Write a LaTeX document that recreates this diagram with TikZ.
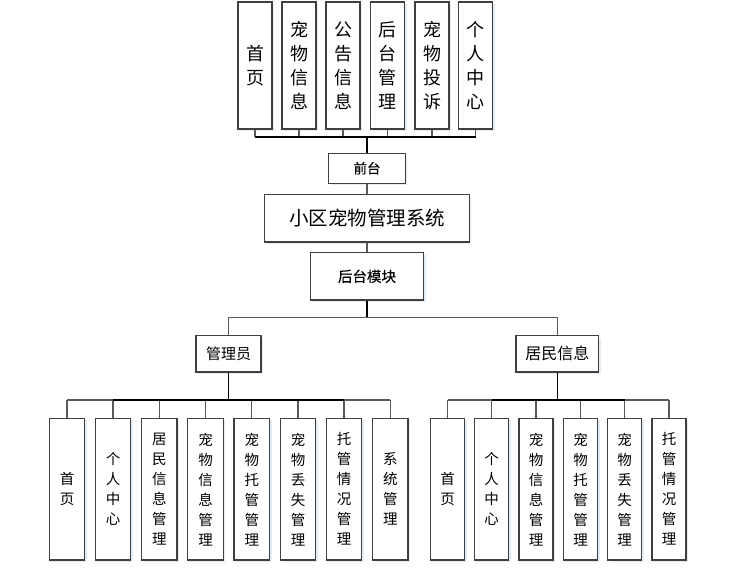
\documentclass[tikz,border=0pt]{standalone}
\usepackage{fontspec}
\setmainfont{Noto Sans CJK SC}
\newfontfamily\semibf[FakeBold=0.5]{Noto Sans CJK SC}
\definecolor{boxc}{HTML}{404040}
\definecolor{linec}{HTML}{5A5A5A}
\definecolor{shadowc}{HTML}{E3EBF5}
\begin{document}
\begin{tikzpicture}[x=1pt,y=-1pt,
  box/.style={draw=boxc, line width=1.2pt, fill=white, inner sep=0pt, align=center,
    preaction={fill=shadowc, transform canvas={xshift=2pt,yshift=-2pt}}},
  topbox/.style={box, minimum width=34pt, minimum height=127pt, font=\fontsize{18}{24}\selectfont},
  botbox/.style={box, minimum width=35.5pt, minimum height=141.7pt, font=\fontsize{14.5}{20}\selectfont},
  rbox/.style={box, minimum width=34pt, minimum height=141.7pt, font=\fontsize{14.5}{20}\selectfont},
  wire/.style={draw=linec, line width=1.2pt},
  stem/.style={draw=black, line width=1.6pt}]
\useasboundingbox (0,0) rectangle (730,576);
% top row
\node[topbox] (t1) at (255,65.5) {首\\页};
\node[topbox] (t2) at (299,65.5) {宠\\物\\信\\息};
\node[topbox] (t3) at (343,65.5) {公\\告\\信\\息};
\node[topbox] (t4) at (387.5,65.5) {后\\台\\管\\理};
\node[topbox] (t5) at (432,65.5) {宠\\物\\投\\诉};
\node[topbox] (t6) at (475.7,65.5) {个\\人\\中\\心};
\node[box, minimum width=76.6pt, minimum height=30pt, font=\semibf\fontsize{13.5}{15}\selectfont] (qt) at (367,168.3) {前台};
\node[box, minimum width=204.6pt, minimum height=47.3pt, font=\fontsize{19.5}{22}\selectfont] (sys) at (367,218.3) {小区宠物管理系统};
\node[box, minimum width=113.4pt, minimum height=47.3pt, font=\semibf\fontsize{14.5}{16}\selectfont] (ht) at (367,276.3) {后台模块};
\node[box, minimum width=65pt, minimum height=36.3pt, font=\fontsize{15}{17}\selectfont] (gly) at (228.5,353.8) {管理员};
\node[box, minimum width=82.7pt, minimum height=36.3pt, font=\fontsize{16}{18}\selectfont] (jm) at (557.3,353.8) {居民信息};
% left bottom
\node[botbox] (a1) at (67,489.2) {首\\页};
\node[botbox] (a2) at (113,489.2) {个\\人\\中\\心};
\node[botbox] (a3) at (159.3,489.2) {居\\民\\信\\息\\管\\理};
\node[botbox] (a4) at (205.5,489.2) {宠\\物\\信\\息\\管\\理};
\node[botbox] (a5) at (251.8,489.2) {宠\\物\\托\\管\\管\\理};
\node[botbox] (a6) at (298,489.2) {宠\\物\\丢\\失\\管\\理};
\node[botbox] (a7) at (344,489.2) {托\\管\\情\\况\\管\\理};
\node[botbox] (a8) at (390.3,489.2) {系\\统\\管\\理};
% right bottom
\node[rbox] (b1) at (447.7,489.2) {首\\页};
\node[rbox] (b2) at (491.7,489.2) {个\\人\\中\\心};
\node[rbox] (b3) at (536,489.2) {宠\\物\\信\\息\\管\\理};
\node[rbox] (b4) at (580.5,489.2) {宠\\物\\托\\管\\管\\理};
\node[rbox] (b5) at (624.7,489.2) {宠\\物\\丢\\失\\管\\理};
\node[rbox] (b6) at (669,489.2) {托\\管\\情\\况\\管\\理};
% bus coordinates
\coordinate (tb) at (367,136.7);
\coordinate (mb) at (367,317.3);
\coordinate (lb) at (228.5,400);
\coordinate (rb) at (557.3,400);
% top connectors
\foreach \n in {t1,t2,t3,t4,t5,t6} \draw[wire] (\n.south) -- (\n.south |- tb);
\draw[stem] (t1.south |- tb) -- (t6.south |- tb);
\draw[stem] (tb) -- (qt.north);
\draw[wire] (qt.south) -- (sys.north);
\draw[wire] (sys.south) -- (ht.north);
% middle
\draw[stem] (ht.south) -- (mb);
\draw[wire] (gly.north |- mb) -- (jm.north |- mb);
\draw[wire] (gly.north |- mb) -- (gly.north);
\draw[wire] (jm.north |- mb) -- (jm.north);
% left bottom
\draw[stem] (gly.south) -- (lb);
\foreach \n in {a1,a2,a3,a4,a5,a6,a7,a8} \draw[wire] (\n.north) -- (\n.north |- lb);
\draw[wire] (a1.north |- lb) -- (a8.north |- lb);
\draw[stem] (a2.north |- lb) -- (a7.north |- lb);
% right bottom
\draw[stem] (jm.south) -- (rb);
\foreach \n in {b1,b2,b3,b4,b5,b6} \draw[wire] (\n.north) -- (\n.north |- rb);
\draw[wire] (b1.north |- rb) -- (b6.north |- rb);
\draw[stem] (b2.north |- rb) -- (b5.north |- rb);
\end{tikzpicture}
\end{document}
